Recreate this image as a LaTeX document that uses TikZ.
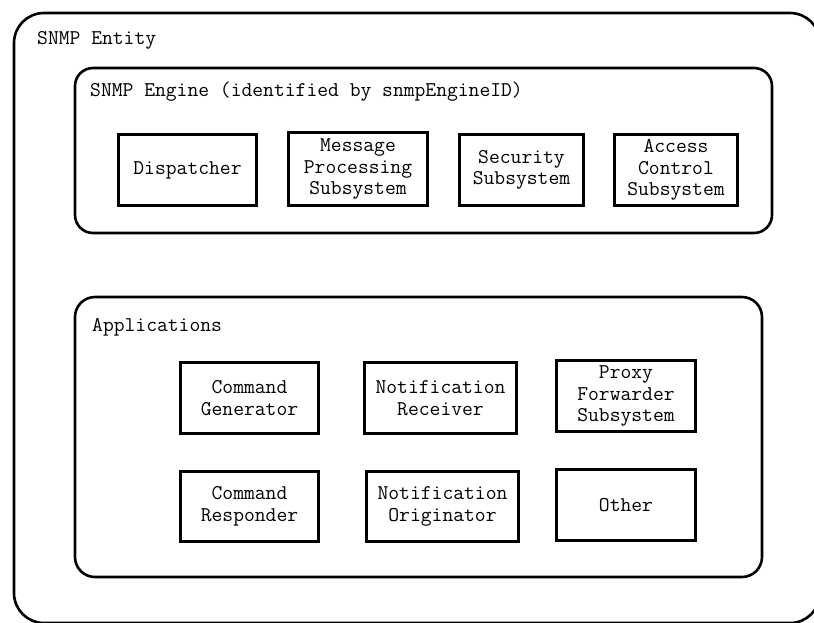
\documentclass[tikz,border=0pt]{standalone}
\usepackage{fontspec}
\begin{document}
\begin{tikzpicture}[x=1pt,y=-1pt,
  txt/.style={font=\ttfamily\fontsize{21}{21.5}\selectfont, inner sep=0pt, align=center},
  module/.style={txt, draw=black, line width=3pt, fill=white},
  frame/.style={draw=black, line width=2.6pt, inner sep=0pt},
  heading/.style={txt, anchor=west}]
\useasboundingbox (0,0) rectangle (814,622);
\begin{scope}
\clip (0,0) rectangle (814,622);
% outer entity frame, running past the right and bottom edges
\node[frame, rounded corners=30pt, minimum width=806pt, minimum height=610pt] (entity) at (417,318) {};
\end{scope}
\node[heading] (entitylbl) at (37,40) {SNMP Entity};

% SNMP engine
\node[frame, rounded corners=18pt, minimum width=697pt, minimum height=165pt] (engine) at (423.5,150.5) {};
\node[heading] (enginelbl) at (90,92) {SNMP Engine (identified by snmpEngineID)};
\node[module, minimum width=138pt, minimum height=71pt] (disp) at (187.5,170) {Dispatcher};
\node[module, minimum width=139pt, minimum height=73pt] (mps) at (358,169) {Message\\Processing\\Subsystem};
\node[module, minimum width=124pt, minimum height=71pt] (sec) at (521.5,170) {Security\\Subsystem};
\node[module, minimum width=123pt, minimum height=71pt] (acs) at (676,170) {Access\\Control\\Subsystem};

% applications
\node[frame, rounded corners=20pt, minimum width=687pt, minimum height=280pt] (apps) at (418.5,437) {};
\node[heading] (appslbl) at (92,327) {Applications};
\node[module, minimum width=138pt, minimum height=71pt] (cg) at (249.5,398) {Command\\Generator};
\node[module, minimum width=152pt, minimum height=71pt] (nr) at (440.5,398) {Notification\\Receiver};
\node[module, minimum width=139pt, minimum height=71pt] (pf) at (626,396) {Proxy\\Forwarder\\Subsystem};
\node[module, minimum width=138pt, minimum height=70pt] (cr) at (249.5,506.5) {Command\\Responder};
\node[module, minimum width=152pt, minimum height=70pt] (no) at (442.5,506.5) {Notification\\Originator};
\node[module, minimum width=139pt, minimum height=71pt] (oth) at (626,505) {Other};
\end{tikzpicture}
\end{document}
